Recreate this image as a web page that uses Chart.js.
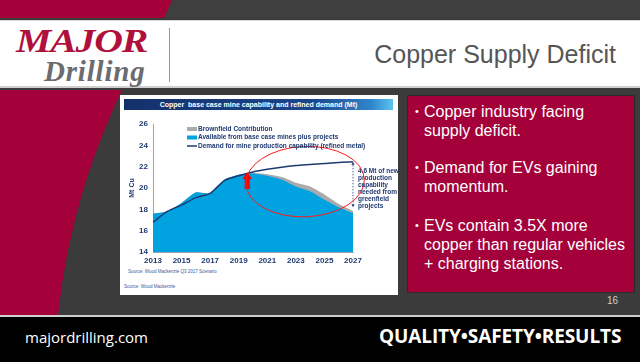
<!DOCTYPE html>
<html>
<head>
<meta charset="utf-8">
<script src="https://cdn.jsdelivr.net/npm/chart.js@4.4.1/dist/chart.umd.min.js"></script>
<style>
  html, body { margin: 0; padding: 0; }
  body { width: 640px; height: 362px; overflow: hidden; position: relative; background: #3b3b3b; font-family: "Liberation Sans", Arial, sans-serif; }
  .abs { position: absolute; }
  #topbar { left: 0; top: 0; width: 640px; height: 18px; background: #3f3f3f; }
  #topred { left: 0; top: 0; width: 172px; height: 18px; background: #a4003a; clip-path: polygon(0 0, 172px 0, 164px 100%, 0 100%); }
  #header { left: 0; top: 20px; width: 640px; height: 68px; background: #fff; border-top: 1px solid #d8d8d8; border-bottom: 2px solid #cfcfcf; box-sizing: border-box; }
  #logo { left: 16px; top: 28px; width: 150px; font: italic bold 34px "Liberation Serif", serif; line-height: 26px; }
  #logo .m { display: inline-block; color: #b0113c; letter-spacing: -1px; transform: scaleX(1.17); transform-origin: left top; }
  #logo .d { display: inline-block; margin-left: 28px; margin-top: 6px; font-size: 29px; line-height: 22px; color: #6b6c6f; letter-spacing: 0.8px; }
  #sep { left: 169px; top: 28px; width: 1px; height: 54px; background: #9a9a9a; }
  #title { right: 24px; top: 40px; font: 25px "Liberation Sans", Arial, sans-serif; color: #555; }
  #redshape { left: 0; top: 90px; }
  #panel { left: 120px; top: 95px; width: 278px; height: 200px; background: #fff; }
  #charttitle { left: 124px; top: 99px; width: 269px; height: 11px; background: linear-gradient(to right, #14306a 0%, #1b468c 70%, #2f86cc 92%, #5cc3ee 100%); color: #fff; font: bold 7px "Liberation Sans", Arial, sans-serif; line-height: 11px; text-align: center; }
  #src1 { left: 128px; top: 269px; font: 4.5px "Liberation Sans", Arial, sans-serif; color: #3a5a9a; }
  #src2 { left: 124px; top: 284px; font: 4.5px "Liberation Sans", Arial, sans-serif; color: #3a5a9a; }
  #chart { left: 120px; top: 112px; }
  #bullets { left: 407px; top: 95px; width: 228px; height: 198px; background: #a4003a; border: 1px solid #2a2a2a; box-sizing: border-box; color: #fff; font: 16px "Liberation Sans", Arial, sans-serif; }
  .b { position: absolute; left: 16px; line-height: 19px; }
  .b span { position: absolute; left: -9px; font-size: 11px; }
  #page { left: 607px; top: 295px; font: 10px "Liberation Sans", Arial, sans-serif; color: #cfcfcf; }
  #footer { left: 0; top: 315px; width: 640px; height: 47px; background: #000; border-top: 2px solid #cfcfcf; box-sizing: border-box; }
  #url { left: 25px; top: 327px; font: 15px "Open Sans", sans-serif; color: #fff; }
  #motto { left: 379px; top: 323px; font: bold 19px "Open Sans", sans-serif; color: #fff; letter-spacing: -0.1px; }
</style>
</head>
<body>
<div id="topbar" class="abs"></div>
<div id="topred" class="abs"></div>
<div id="header" class="abs"></div>
<div id="logo" class="abs"><span class="m">MAJOR</span><br><span class="d">Drilling</span></div>
<div id="sep" class="abs"></div>
<div id="title" class="abs">Copper Supply Deficit</div>
<svg id="redshape" class="abs" width="130" height="225"><path d="M0,0 L122,0 Q70,110 58,225 L0,225 Z" fill="#a4003a"/></svg>
<div id="panel" class="abs"></div>
<div id="charttitle" class="abs">Copper&nbsp; base case mine capability and refined demand (Mt)</div>
<canvas id="chart" class="abs" width="278" height="156"></canvas>
<div id="src1" class="abs">Source: Wood Mackenzie Q3 2017 Scenario</div>
<div id="src2" class="abs">Source: Wood Mackenzie</div>
<div id="bullets" class="abs">
  <div class="b" style="top:6px"><span>•</span>Copper industry facing<br>supply deficit.</div>
  <div class="b" style="top:62px"><span>•</span>Demand for EVs gaining<br>momentum.</div>
  <div class="b" style="top:120px"><span>•</span>EVs contain 3.5X more<br>copper than regular vehicles<br>+ charging stations.</div>
</div>
<div id="page" class="abs">16</div>
<div id="footer" class="abs"></div>
<div id="url" class="abs">majordrilling.com</div>
<div id="motto" class="abs">QUALITY•SAFETY•RESULTS</div>

<script>
const years = ['2013', '2014', '2015', '2016', '2017', '2018', '2019', '2020', '2021', '2022', '2023', '2024', '2025', '2026', '2027']
const brownfield = [17.6, 17.8, 18.6, 19.6, 19.5, 20.8, 21.25, 21.4, 21.3, 21.05, 20.5, 20.15, 19.4, 18.5, 17.85]
const available = [17.6, 17.8, 18.6, 19.6, 19.5, 20.8, 21.25, 21.35, 21.15, 20.8, 20.15, 19.7, 18.9, 18.2, 17.65]
const demand = [16.8, 17.8, 18.4, 19.1, 19.5, 20.7, 21.15, 21.5, 21.75, 21.95, 22.1, 22.2, 22.3, 22.4, 22.45]
const seriesNames = ['Brownfield Contribution', 'Available from base case mines plus projects', 'Demand for mine production capability (refined metal)']
const noteLines = ['4.6 Mt of new', 'production', 'capability', 'needed from', 'greenfield', 'projects']
const gapLow = 18.2

const navy = '#1f3a70'
const blue = '#00a2df'
const gray = '#ababab'

const overlays = {
    id: 'overlays',
    afterDatasetsDraw(chart) {
        const ctx = chart.ctx
        const x = chart.scales.x
        const y = chart.scales.y
        const area = chart.chartArea
        ctx.save()

        // dashed gap line at the last year
        const gx = x.getPixelForValue(years.length - 1)
        const gTop = y.getPixelForValue(demand[demand.length - 1])
        const gBot = y.getPixelForValue(gapLow)
        ctx.strokeStyle = navy
        ctx.fillStyle = navy
        ctx.lineWidth = 0.8
        ctx.setLineDash([1.5, 1.5])
        ctx.beginPath()
        ctx.moveTo(gx, gTop + 3)
        ctx.lineTo(gx, gBot - 3)
        ctx.stroke()
        ctx.setLineDash([])
        ctx.beginPath()
        ctx.moveTo(gx, gTop); ctx.lineTo(gx - 1.6, gTop + 3); ctx.lineTo(gx + 1.6, gTop + 3); ctx.closePath()
        ctx.moveTo(gx, gBot); ctx.lineTo(gx - 1.6, gBot - 3); ctx.lineTo(gx + 1.6, gBot - 3); ctx.closePath()
        ctx.fill()

        // note text
        ctx.font = 'bold 6.5px "Liberation Sans", Arial, sans-serif'
        ctx.textBaseline = 'middle'
        ctx.textAlign = 'left'
        noteLines.forEach((t, i) => {
            ctx.fillText(t, gx + 5, y.getPixelForValue(21.6) + i * 7)
        })

        // red up arrow
        const ax = x.getPixelForValue(6.6)
        const aBot = y.getPixelForValue(19.9)
        const aNeck = y.getPixelForValue(20.85)
        const aTip = y.getPixelForValue(21.45)
        ctx.fillStyle = '#ff0000'
        ctx.beginPath()
        ctx.moveTo(ax - 2.6, aBot)
        ctx.lineTo(ax + 2.6, aBot)
        ctx.lineTo(ax + 2.6, aNeck)
        ctx.lineTo(ax + 5, aNeck)
        ctx.lineTo(ax, aTip)
        ctx.lineTo(ax - 5, aNeck)
        ctx.lineTo(ax - 2.6, aNeck)
        ctx.closePath()
        ctx.fill()

        // red ellipse
        const ex1 = x.getPixelForValue(6.5), ex2 = x.getPixelForValue(14.8)
        const ey1 = y.getPixelForValue(23.9), ey2 = y.getPixelForValue(17.3)
        ctx.strokeStyle = '#ff1a1a'
        ctx.lineWidth = 1
        ctx.beginPath()
        ctx.ellipse((ex1 + ex2) / 2, (ey1 + ey2) / 2, (ex2 - ex1) / 2, (ey2 - ey1) / 2, -0.04, 0, Math.PI * 2)
        ctx.stroke()

        // legend
        const lx = area.left + 34
        const rows = [area.top + 5, area.top + 13.5, area.top + 22]
        ctx.font = 'bold 6.5px "Liberation Sans", Arial, sans-serif'
        ctx.fillStyle = gray
        ctx.fillRect(lx, rows[0] - 2, 10, 4)
        ctx.fillStyle = blue
        ctx.fillRect(lx, rows[1] - 2, 10, 4)
        ctx.strokeStyle = navy
        ctx.lineWidth = 1.5
        ctx.beginPath()
        ctx.moveTo(lx, rows[2]); ctx.lineTo(lx + 10, rows[2])
        ctx.stroke()
        ctx.fillStyle = navy
        seriesNames.forEach((t, i) => ctx.fillText(t, lx + 11, rows[i]))

        ctx.restore()
    }
}

new Chart(document.getElementById('chart'), {
    type: 'line',
    data: {
        labels: years,
        datasets: [
            {
                label: seriesNames[0],
                data: brownfield,
                backgroundColor: gray,
                borderWidth: 0,
                fill: 'start',
                pointRadius: 0,
                tension: 0.15,
                order: 3
            },
            {
                label: seriesNames[1],
                data: available,
                backgroundColor: blue,
                borderWidth: 0,
                fill: 'start',
                pointRadius: 0,
                tension: 0.15,
                order: 2
            },
            {
                label: seriesNames[2],
                data: demand,
                borderColor: navy,
                borderWidth: 1.5,
                fill: false,
                pointRadius: 0,
                tension: 0.25,
                order: 1
            }
        ]
    },
    options: {
        responsive: false,
        animation: false,
        devicePixelRatio: 1,
        layout: { padding: { top: 12, right: 45, left: 0, bottom: 0 } },
        plugins: { legend: { display: false }, tooltip: { enabled: false } },
        scales: {
            x: {
                grid: { display: false, drawTicks: true, tickLength: 2 },
                border: { color: '#9aa3b5' },
                ticks: {
                    autoSkip: false,
                    maxRotation: 0,
                    padding: 2,
                    color: navy,
                    font: { size: 8, weight: 'bold', family: '"Liberation Sans", Arial, sans-serif' },
                    callback: (v, i) => i % 2 === 0 ? years[i] : ''
                },
                afterFit: (s) => { s.height = 16 }
            },
            y: {
                min: 14,
                max: 26,
                grid: { display: false, drawTicks: true, tickLength: 2 },
                border: { color: '#9aa3b5' },
                ticks: {
                    stepSize: 2,
                    padding: 3,
                    color: navy,
                    font: { size: 8, weight: 'bold', family: '"Liberation Sans", Arial, sans-serif' }
                },
                title: {
                    display: true,
                    text: 'Mt Cu',
                    color: navy,
                    padding: { top: 8, bottom: 0 },
                    font: { size: 7, weight: 'bold', family: '"Liberation Sans", Arial, sans-serif' }
                },
                afterFit: (s) => { s.width = 33 }
            }
        }
    },
    plugins: [overlays]
})
</script>
</body>
</html>
